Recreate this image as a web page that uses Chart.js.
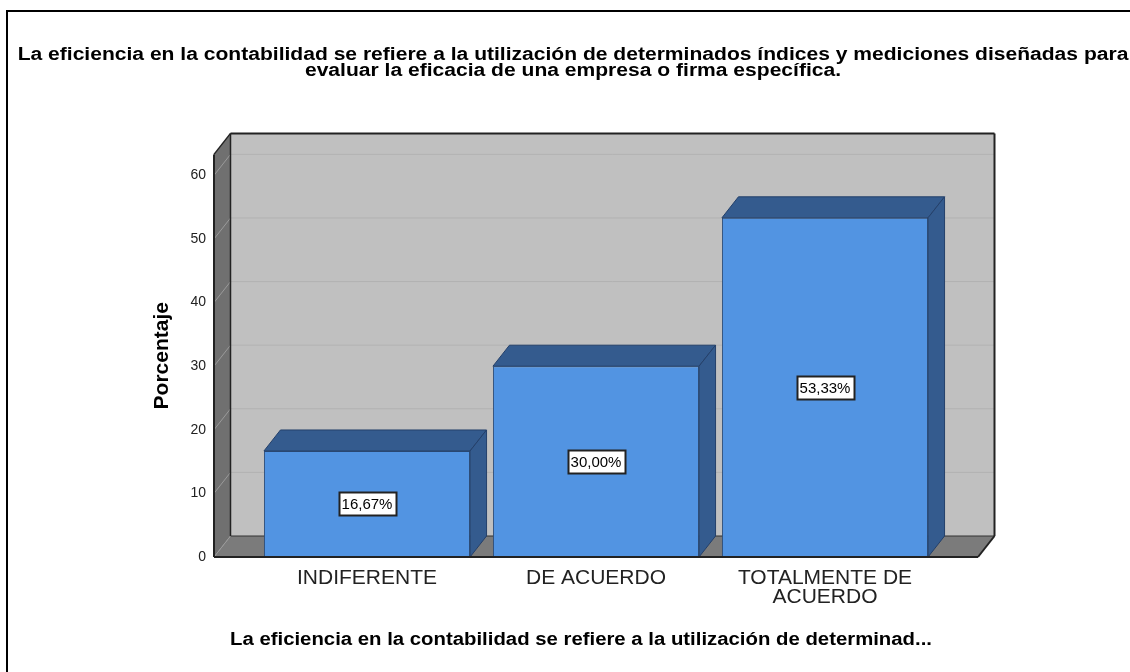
<!DOCTYPE html>
<html>
<head>
<meta charset="utf-8">
<script src="https://cdn.jsdelivr.net/npm/chart.js@4.4.1/dist/chart.umd.min.js"></script>
<style>
  html, body { margin: 0; padding: 0; background: #fff; }
  #wrap { position: relative; width: 1130px; height: 672px; }
</style>
</head>
<body>
<div id="wrap"><canvas id="barChart"></canvas></div>
<script>
// chart data
const chartTitle = [
    'La eficiencia en la contabilidad se refiere a la utilización de determinados índices y mediciones diseñadas para',
    'evaluar la eficacia de una empresa o firma específica.'
];
const xAxisTitle = 'La eficiencia en la contabilidad se refiere a la utilización de determinad...';
const yAxisTitle = 'Porcentaje';
const categories = ['INDIFERENTE', 'DE ACUERDO', ['TOTALMENTE DE', 'ACUERDO']];
const percentages = [16.67, 30.00, 53.33];
const yMax = 63.3;
const yStep = 10;

// 3D look
const DEPTH_X = 16.5;
const DEPTH_Y = 21;
const WALL_EXT = 38.5;
const FONT = '"Liberation Sans", Arial, sans-serif';

function poly(ctx, pts, fill, stroke) {
    ctx.beginPath();
    ctx.moveTo(pts[0][0], pts[0][1]);
    for (let i = 1; i < pts.length; i++) ctx.lineTo(pts[i][0], pts[i][1]);
    ctx.closePath();
    if (fill) { ctx.fillStyle = fill; ctx.fill(); }
    if (stroke) { ctx.strokeStyle = stroke; ctx.stroke(); }
}

function seg(ctx, x1, y1, x2, y2, color, w) {
    ctx.beginPath();
    ctx.moveTo(x1, y1);
    ctx.lineTo(x2, y2);
    ctx.strokeStyle = color;
    ctx.lineWidth = w || 1;
    ctx.stroke();
}

// the SPSS export has its text a bit wider than tall
function wideText(ctx, txt, cx, cy, sx) {
    ctx.save();
    ctx.translate(cx, cy);
    ctx.scale(sx, 1);
    ctx.fillText(txt, 0, 0);
    ctx.restore();
}

function pctLabel(v) {
    return v.toFixed(2).replace('.', ',') + '%';
}

const box3d = {
    id: 'box3d',
    beforeDraw(chart) {
        const ctx = chart.ctx;
        ctx.save();
        ctx.fillStyle = '#fff';
        ctx.fillRect(0, 0, chart.width, chart.height);
        ctx.strokeStyle = '#000';
        ctx.lineWidth = 2;
        ctx.strokeRect(7, 11, chart.width + 20, chart.height + 20);

        ctx.fillStyle = '#000';
        ctx.textAlign = 'center';
        ctx.textBaseline = 'middle';
        ctx.font = 'bold 18px ' + FONT;
        chartTitle.forEach((line, i) => wideText(ctx, line, 573, 55 + i * 16, 1.17));
        wideText(ctx, xAxisTitle, 581, 640, 1.13);
        ctx.restore();
    },
    beforeDatasetsDraw(chart) {
        const { ctx, chartArea: a, scales: { y } } = chart;
        const fl = a.left - WALL_EXT, fr = a.right + WALL_EXT;
        const top = y.getPixelForValue(y.max), bot = y.getPixelForValue(0);
        const dx = DEPTH_X, dy = DEPTH_Y;
        ctx.save();
        ctx.lineWidth = 1;
        // back wall, left wall, floor
        poly(ctx, [[fl + dx, top - dy], [fr + dx, top - dy], [fr + dx, bot - dy], [fl + dx, bot - dy]], '#c0c0c0');
        poly(ctx, [[fl, top], [fl + dx, top - dy], [fl + dx, bot - dy], [fl, bot]], '#707070');
        poly(ctx, [[fl, bot], [fl + dx, bot - dy], [fr + dx, bot - dy], [fr, bot]], '#7b7b7b');

        // grid lines on the walls
        y.ticks.forEach(t => {
            if (t.value === 0) return;
            const py = y.getPixelForValue(t.value);
            seg(ctx, fl + dx, py - dy, fr + dx, py - dy, '#b2b2b2', 1);
            seg(ctx, fl, py, fl + dx, py - dy, '#9a9a9a', 1);
        });
        seg(ctx, fl, bot, fl + dx, bot - dy, '#9a9a9a', 1);

        // edges
        seg(ctx, fl + dx, top - dy, fr + dx, top - dy, '#222', 2);
        seg(ctx, fr + dx, top - dy, fr + dx, bot - dy, '#222', 2);
        seg(ctx, fl + dx, top - dy, fl + dx, bot - dy, '#222', 1.5);
        seg(ctx, fl + dx, bot - dy, fr + dx, bot - dy, '#333', 1);
        seg(ctx, fl, top, fl + dx, top - dy, '#222', 1.5);
        seg(ctx, fl, top, fl, bot, '#222', 2);
        ctx.restore();
    },
    afterDatasetsDraw(chart) {
        const { ctx, chartArea: a, scales: { y } } = chart;
        const fl = a.left - WALL_EXT, fr = a.right + WALL_EXT;
        const bot = y.getPixelForValue(0);
        const dx = DEPTH_X, dy = DEPTH_Y;
        const meta = chart.getDatasetMeta(0);
        ctx.save();
        ctx.lineWidth = 1;
        meta.data.forEach(bar => {
            const l = bar.x - bar.width / 2, r = bar.x + bar.width / 2;
            const t = bar.y, b = bar.base;
            poly(ctx, [[l, t], [l + dx, t - dy], [r + dx, t - dy], [r, t]], '#345b8e', '#24406a');
            poly(ctx, [[r, t], [r + dx, t - dy], [r + dx, b - dy], [r, b]], '#345b8e', '#24406a');
        });

        // floor front edge
        seg(ctx, fl, bot, fr, bot, '#222', 2);
        seg(ctx, fr, bot, fr + dx, bot - dy, '#222', 2);

        // value labels
        ctx.font = '15px ' + FONT;
        ctx.textAlign = 'center';
        ctx.textBaseline = 'middle';
        meta.data.forEach((bar, i) => {
            const txt = pctLabel(percentages[i]);
            const w = Math.round(ctx.measureText(txt).width + 6), h = 23;
            const cy = (bar.y + bar.base) / 2;
            const bx = Math.round(bar.x - w / 2) + 0.5, by = Math.round(cy - h / 2) + 0.5;
            ctx.fillStyle = '#fff';
            ctx.fillRect(bx, by, w, h);
            ctx.strokeStyle = '#222';
            ctx.strokeRect(bx, by, w, h);
            ctx.fillStyle = '#000';
            ctx.fillText(txt, bar.x, cy + 1);
        });
        ctx.restore();
    }
};

new Chart(document.getElementById('barChart'), {
    type: 'bar',
    data: {
        labels: categories,
        datasets: [{
            data: percentages,
            backgroundColor: '#5294e2',
            borderColor: '#2f4f7a',
            borderWidth: 1,
            borderSkipped: false,
            categoryPercentage: 1,
            barPercentage: 0.9
        }]
    },
    options: {
        responsive: true,
        maintainAspectRatio: false,
        animation: false,
        layout: { padding: { left: 150, right: 190.5, top: 154.4, bottom: 0 } },
        plugins: {
            legend: { display: false },
            tooltip: { enabled: false }
        },
        scales: {
            x: {
                grid: { display: false },
                border: { display: false },
                ticks: {
                    color: '#222',
                    padding: 4,
                    maxRotation: 0,
                    autoSkip: false,
                    font: { family: FONT, size: 21, lineHeight: 0.9 }
                },
                afterFit(scale) { scale.height = 115; }
            },
            y: {
                min: 0,
                max: yMax,
                grid: { display: false, drawTicks: false },
                border: { display: false },
                ticks: {
                    stepSize: yStep,
                    includeBounds: false,
                    color: '#222',
                    padding: 46.5,
                    font: { family: FONT, size: 14 }
                },
                title: {
                    display: true,
                    text: yAxisTitle,
                    color: '#000',
                    padding: { top: 0, bottom: 0 },
                    font: { family: FONT, size: 21, weight: 'bold' }
                },
                afterFit(scale) { scale.width = 102.5; }
            }
        }
    },
    plugins: [box3d]
});
</script>
</body>
</html>
